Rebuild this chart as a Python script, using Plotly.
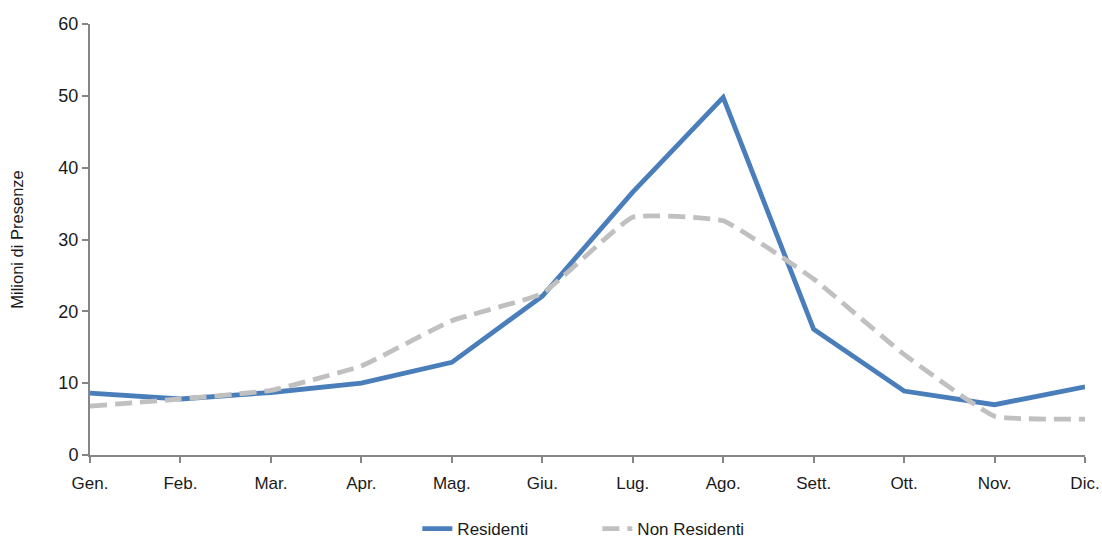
import plotly.graph_objects as go

months = ["Gen.", "Feb.", "Mar.", "Apr.", "Mag.", "Giu.", "Lug.", "Ago.", "Sett.", "Ott.", "Nov.", "Dic."]
residenti = [8.6, 7.8, 8.7, 10.0, 12.9, 22.1, 36.6, 49.8, 17.5, 8.9, 7.0, 9.5]
non_residenti = [6.8, 7.8, 9.0, 12.4, 18.7, 22.5, 33.1, 32.6, 24.5, 14.0, 5.4, 5.0]
y_ticks = [0, 10, 20, 30, 40, 50, 60]

FONT = "Liberation Sans, Arial, sans-serif"

fig = go.Figure()
fig.add_trace(go.Scatter(
    x=months, y=residenti, name="Residenti", mode="lines",
    line=dict(color="#4a7ebb", width=4.8),
))
fig.add_trace(go.Scatter(
    x=months, y=non_residenti, name="Non Residenti", mode="lines",
    line=dict(color="#c0c0c0", width=4.8, dash="17px,8px", shape="spline", smoothing=0.35),
))

fig.update_layout(
    width=1102, height=541,
    margin=dict(l=90, r=17, t=24, b=86, autoexpand=False),
    paper_bgcolor="white", plot_bgcolor="white",
    font=dict(family=FONT, size=17, color="#1a1a1a"),
    showlegend=True,
    legend=dict(orientation="h", x=0.329, xanchor="left",
                yref="container", y=0.022, yanchor="middle",
                entrywidth=135, entrywidthmode="pixels",
                font=dict(size=17), traceorder="normal"),
    xaxis=dict(
        type="category", range=[0, 11], automargin=False,
        showgrid=False, zeroline=False,
        showline=True, linecolor="#868686", linewidth=2,
        ticks="outside", ticklen=6, tickcolor="#868686", tickwidth=1.5,
        tickfont=dict(size=17), ticklabelstandoff=6,
    ),
    yaxis=dict(
        range=[0, 60], tickvals=y_ticks, automargin=False,
        showgrid=False, zeroline=False,
        showline=True, linecolor="#868686", linewidth=2,
        ticks="outside", ticklen=6, tickcolor="#868686", tickwidth=1.5,
        tickfont=dict(size=18),
        title=dict(text="Milioni di Presenze", font=dict(size=16.5), standoff=31),
    ),
)

fig.write_html(
    "out.html",
    config={"displayModeBar": False},
    post_script="document.body.style.margin='0';document.body.style.overflow='hidden';",
)
